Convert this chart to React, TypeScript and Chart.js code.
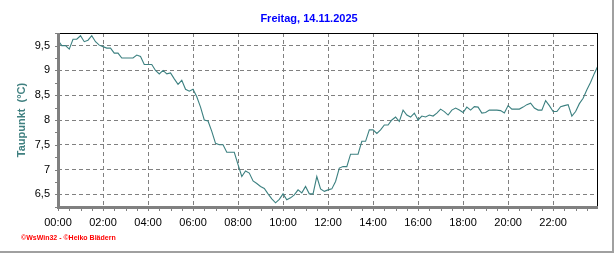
import React, { useEffect, useRef } from "react";
import { Chart, registerables } from "chart.js";

Chart.register(...registerables);

const TITLE = "Freitag, 14.11.2025";
const Y_TITLE = "Taupunkt  (°C)";
const CREDITS = "©WsWin32 - ©Heiko Blädern";

// minutes since midnight, one reading every 10 minutes
const STEP_MIN = 10;
const DEWPOINT = [
  9.61, 9.5, 9.5, 9.43, 9.63, 9.63, 9.7, 9.58, 9.61, 9.7, 9.58, 9.51,
  9.48, 9.45, 9.45, 9.35, 9.35, 9.25, 9.25, 9.25, 9.25, 9.31, 9.28, 9.12,
  9.12, 9.12, 9.0, 8.93, 9.0, 8.93, 8.95, 8.83, 8.72, 8.8, 8.62, 8.58,
  8.62, 8.47, 8.26, 8.0, 7.98, 7.77, 7.53, 7.5, 7.5, 7.35, 7.35, 7.35,
  7.1, 6.86, 6.97, 6.93, 6.77, 6.72, 6.66, 6.62, 6.51, 6.41, 6.33, 6.4,
  6.51, 6.39, 6.43, 6.49, 6.59, 6.53, 6.66, 6.51, 6.51, 6.86, 6.61, 6.56,
  6.59, 6.61, 6.76, 7.03, 7.06, 7.06, 7.31, 7.31, 7.31, 7.57, 7.57, 7.8,
  7.8, 7.73, 7.8, 7.9, 7.9, 8.0, 8.06, 7.97, 8.2, 8.1, 8.06, 8.14,
  8.0, 8.08, 8.06, 8.1, 8.08, 8.14, 8.22, 8.17, 8.1, 8.2, 8.24, 8.2,
  8.15, 8.26, 8.2, 8.27, 8.26, 8.14, 8.15, 8.2, 8.2, 8.2, 8.19, 8.14,
  8.29, 8.22, 8.22, 8.22, 8.26, 8.31, 8.34, 8.24, 8.2, 8.2, 8.39, 8.29,
  8.17, 8.17, 8.27, 8.29, 8.31, 8.08, 8.17, 8.33, 8.44, 8.61, 8.76, 8.94,
  9.1,
];

const X_TICKS = [0, 120, 240, 360, 480, 600, 720, 840, 960, 1080, 1200, 1320];
const X_LABELS = ["00:00", "02:00", "04:00", "06:00", "08:00", "10:00", "12:00", "14:00", "16:00", "18:00", "20:00", "22:00"];
const Y_TICKS = [6.5, 7, 7.5, 8, 8.5, 9, 9.5];
const Y_LABELS = ["6,5", "7", "7,5", "8", "8,5", "9", "9,5"];
const X_MIN = 0;
const X_MAX = 1437;
const Y_MIN = 6.245;
const Y_MAX = 9.755;

const FONT = "'Liberation Sans', Arial, sans-serif";

const framePlugin = {
  id: "frame",
  afterDraw(chart: any) {
    const { ctx, chartArea } = chart;
    const { left, right, top, bottom } = chartArea;
    const xs = chart.scales.x;
    const ys = chart.scales.y;
    ctx.save();
    // title
    ctx.fillStyle = "#0000ff";
    ctx.font = `bold 11px ${FONT}`;
    ctx.textAlign = "center";
    ctx.textBaseline = "middle";
    ctx.fillText(TITLE, 309, 19);
    // top & right black border
    ctx.fillStyle = "#000000";
    ctx.fillRect(left, top, right - left + 1, 1);
    ctx.fillRect(right, top, 1, bottom - top);
    // thick grey axes
    ctx.fillStyle = "#808080";
    ctx.fillRect(left - 1, top, 3, bottom - top + 2);
    ctx.fillRect(left - 1, bottom - 1, right - left + 2, 3);
    // minor ticks
    for (let m = 0; m <= X_MAX; m += 30) {
      const px = Math.round(xs.getPixelForValue(m));
      ctx.fillRect(px, bottom + 2, 1, 2);
    }
    for (let v = 6.25; v <= Y_MAX; v += 0.25) {
      const py = Math.round(ys.getPixelForValue(v));
      ctx.fillRect(left - 3, py, 2, 1);
    }
    // outer window frame
    ctx.fillStyle = "#a0a0a0";
    ctx.fillRect(612, 0, 2, 253);
    ctx.fillRect(0, 251, 614, 2);
    // credits
    ctx.fillStyle = "#ff0000";
    ctx.font = `bold 7px ${FONT}`;
    ctx.textAlign = "left";
    ctx.textBaseline = "middle";
    ctx.fillText(CREDITS, 21, 238.5);
    ctx.restore();
  },
};

export default function App() {
  const ref = useRef<HTMLCanvasElement | null>(null);
  useEffect(() => {
    if (!ref.current) return;
    const points = DEWPOINT.map((v, i) => ({ x: i * STEP_MIN, y: v }));
    const chart = new Chart(ref.current, {
      type: "line",
      data: {
        datasets: [
          {
            data: points,
            borderColor: "#3c8080",
            borderWidth: 1.1,
            pointRadius: 0,
            tension: 0,
            fill: false,
          },
        ],
      },
      options: {
        responsive: false,
        animation: false,
        events: [],
        layout: { padding: { left: 0, right: 19, top: 33, bottom: 0 } },
        plugins: {
          legend: { display: false },
          tooltip: { enabled: false },
          title: { display: false },
        },
        scales: {
          x: {
            type: "linear",
            min: X_MIN,
            max: X_MAX,
            afterBuildTicks: (s: any) => {
              s.ticks = X_TICKS.map((v) => ({ value: v }));
            },
            afterFit: (s: any) => {
              s.height = 46;
            },
            ticks: {
              autoSkip: false,
              maxRotation: 0,
              color: "#000000",
              padding: 9,
              font: { family: FONT, size: 11 },
              callback: (_v: any, i: number) => X_LABELS[i],
            },
            grid: { color: "#808080", lineWidth: 1, drawTicks: false },
            border: { display: false, dash: [4, 3] },
          },
          y: {
            type: "linear",
            min: Y_MIN,
            max: Y_MAX,
            afterBuildTicks: (s: any) => {
              s.ticks = Y_TICKS.map((v) => ({ value: v }));
            },
            afterFit: (s: any) => {
              s.width = 58;
            },
            ticks: {
              color: "#000000",
              padding: 8,
              font: { family: FONT, size: 11 },
              callback: (_v: any, i: number) => Y_LABELS[i],
            },
            grid: { color: "#808080", lineWidth: 1, drawTicks: false },
            border: { display: false, dash: [4, 3] },
            title: {
              display: true,
              text: Y_TITLE,
              color: "#408080",
              font: { family: FONT, size: 11, weight: "bold" },
              padding: { top: 15, bottom: 0 },
            },
          },
        },
      },
      plugins: [framePlugin],
    });
    return () => chart.destroy();
  }, []);
  return (
    <div style={{ position: "absolute", left: 0, top: 0, width: 616, height: 253, background: "#ffffff" }}>
      <canvas ref={ref} width={616} height={253} style={{ display: "block" }} />
    </div>
  );
}
